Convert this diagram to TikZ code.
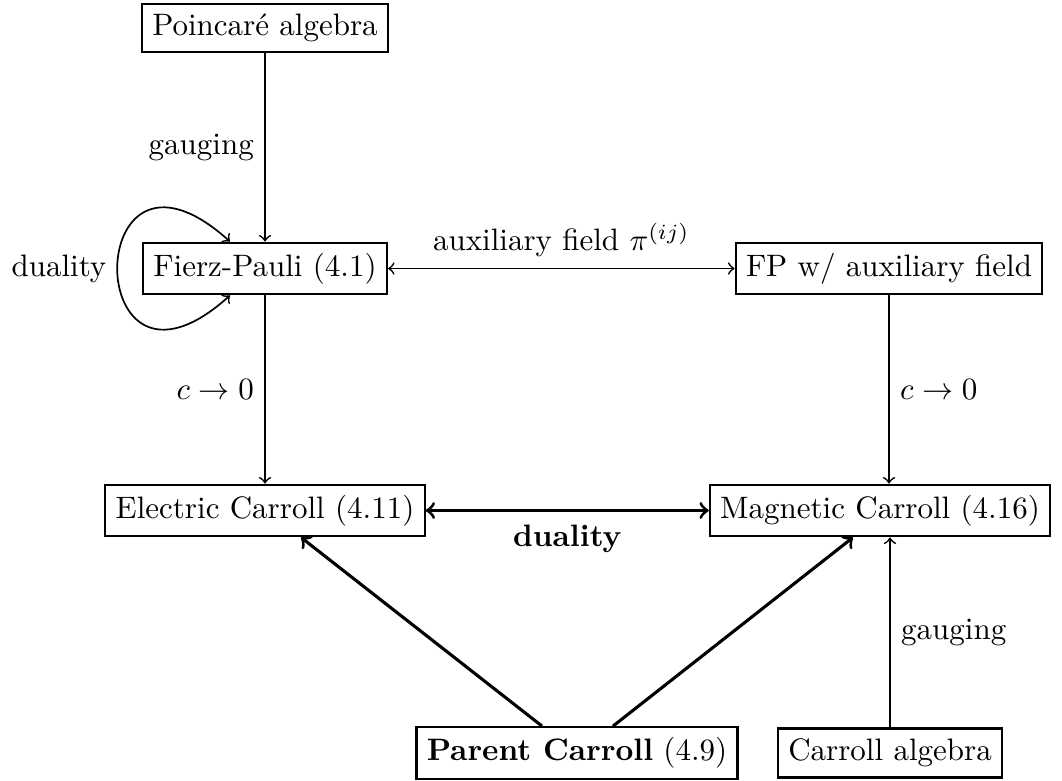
\documentclass[tikz,border=0pt]{standalone}
\usetikzlibrary{calc}
\begin{document}
\begin{tikzpicture}[x=0.3226pt,y=0.3226pt,
  box/.style={draw,line width=0.7pt},
  arr/.style={->,line width=0.55pt},
  darr/.style={<->,line width=0.55pt},
  tarr/.style={->,line width=1pt},
  tdarr/.style={<->,line width=1pt}]
\useasboundingbox (0,0) rectangle (1062,780);
\node[box] (poin) at (265,752) {Poincar\'e algebra};
\node[box] (fp) at (265,511.5) {Fierz-Pauli (4.1)};
\node[box] (fpaux) at (889,511.5) {FP w/ auxiliary field};
\node[box] (elec) at (265,269.5) {Electric Carroll (4.11)};
\node[box] (mag) at (880,269.5) {Magnetic Carroll (4.16)};
\node[box] (parent) at (577,27) {\textbf{Parent Carroll} (4.9)};
\node[box] (calg) at (890,27) {Carroll algebra};

\draw[arr] (poin) -- node[left] {gauging} (fp);
\draw[darr] ($(fp.south)+(-35,0)$) .. controls +(-150,-135) and +(-150,135) .. node[pos=0.5,left] {duality} ($(fp.north)+(-35,0)$);
\draw[darr] (fp) -- node[above] {auxiliary field $\pi^{(ij)}$} (fpaux);
\draw[arr] (fp) -- node[left] {$c\to0$} (elec);
\draw[arr] (fpaux) -- node[right] {$c\to0$} (fpaux |- mag.north);
\draw[tdarr] (elec) -- node[below=1pt] {\textbf{duality}} (mag);
\draw[tarr] ($(parent.north)+(-35,0)$) -- ($(elec.south)+(36,0)$);
\draw[tarr] ($(parent.north)+(36,0)$) -- ($(mag.south)+(-27,0)$);
\draw[arr] (calg) -- node[right] {gauging} (calg |- mag.south);
\end{tikzpicture}
\end{document}
